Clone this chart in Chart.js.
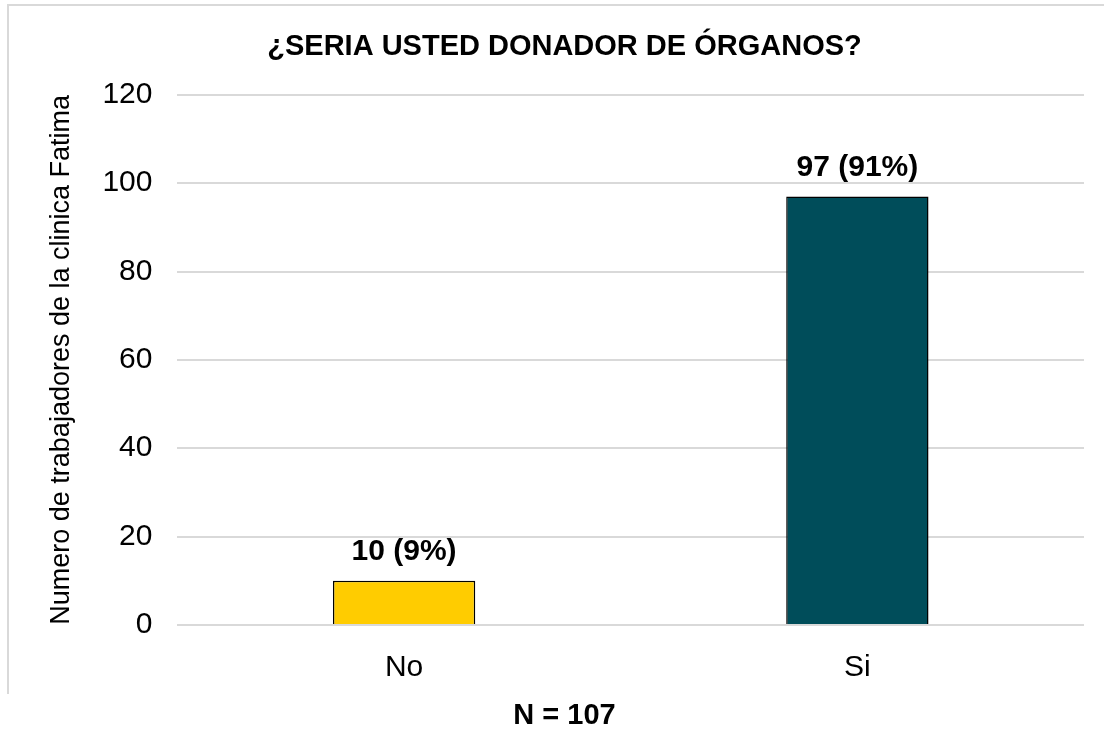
<!DOCTYPE html>
<html>
<head>
<meta charset="utf-8">
<script src="https://cdn.jsdelivr.net/npm/chart.js@4/dist/chart.umd.min.js"></script>
<style>
  html, body { margin: 0; padding: 0; background: #fff; }
  #wrap { width: 1104px; height: 729px; position: relative; }
</style>
</head>
<body>
<div id="wrap"><canvas id="chart"></canvas></div>
<script>
// datos
const categorias = ["No", "Si"];
const trabajadores = [10, 97];
const etiquetas = ["10 (9%)", "97 (91%)"];
const colores = ["#FFCC00", "#004D5A"];

const fuente = "'Liberation Sans', Arial, sans-serif";

// borde gris arriba y a la izquierda
const bordePlugin = {
    id: "borde",
    beforeDraw(chart) {
        const ctx = chart.ctx;
        ctx.save();
        ctx.strokeStyle = "#d9d9d9";
        ctx.lineWidth = 2;
        ctx.beginPath();
        ctx.moveTo(8, 694);
        ctx.lineTo(8, 5);
        ctx.lineTo(1104, 5);
        ctx.stroke();
        ctx.restore();
    }
};

// etiquetas encima de las barras
const etiquetasPlugin = {
    id: "etiquetas",
    afterDatasetsDraw(chart) {
        const ctx = chart.ctx;
        const meta = chart.getDatasetMeta(0);
        ctx.save();
        ctx.font = "bold 30px " + fuente;
        ctx.fillStyle = "#000";
        ctx.textAlign = "center";
        ctx.textBaseline = "bottom";
        meta.data.forEach((bar, i) => {
            ctx.fillText(etiquetas[i], bar.x, bar.y - 14);
        });
        ctx.restore();
    }
};

new Chart(document.getElementById("chart").getContext("2d"), {
    type: "bar",
    data: {
        labels: categorias,
        datasets: [{
            data: trabajadores,
            backgroundColor: colores,
            borderColor: "#000",
            borderWidth: 1.5,
            barPercentage: 0.314,
            categoryPercentage: 1
        }]
    },
    options: {
        responsive: true,
        maintainAspectRatio: false,
        animation: false,
        layout: { padding: { left: 45, right: 20, top: 22, bottom: 0 } },
        plugins: {
            legend: { display: false },
            tooltip: { enabled: false },
            title: {
                display: true,
                text: "¿SERIA USTED DONADOR DE ÓRGANOS?",
                color: "#000",
                font: { family: fuente, size: 29, weight: "bold" },
                padding: { top: 8, bottom: 30 }
            },
            subtitle: {
                display: true,
                position: "bottom",
                text: "N = 107",
                color: "#000",
                font: { family: fuente, size: 29, weight: "bold", lineHeight: 0.9 },
                padding: { top: 0, bottom: 0 }
            }
        },
        scales: {
            x: {
                grid: { display: false },
                border: { display: false },
                ticks: { color: "#000", font: { family: fuente, size: 30 }, padding: 17 }
            },
            y: {
                min: 0,
                max: 120,
                ticks: { stepSize: 20, color: "#000", font: { family: fuente, size: 30 }, padding: 25 },
                grid: { color: "#d9d9d9", lineWidth: 2, drawTicks: false },
                border: { display: false },
                title: {
                    display: true,
                    text: "Numero de trabajadores de la clinica Fatima",
                    color: "#000",
                    font: { family: fuente, size: 27 },
                    padding: { top: 0, bottom: 0 }
                }
            }
        }
    },
    plugins: [bordePlugin, etiquetasPlugin]
});
</script>
</body>
</html>
